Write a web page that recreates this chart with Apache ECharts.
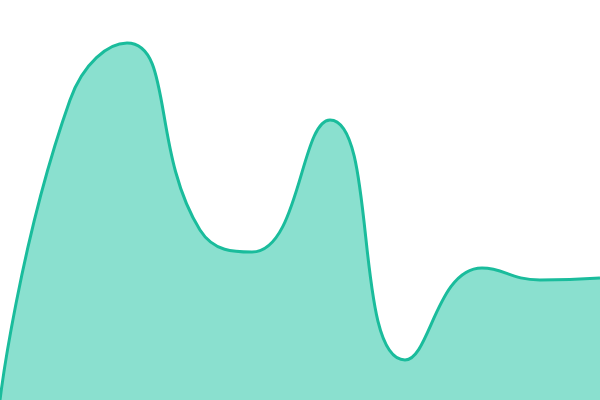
<!DOCTYPE html>
<html lang="en">

<head>
    <meta charset="UTF-8">
    <title>area</title>
    <script src="https://cdn.jsdelivr.net/npm/echarts@6/dist/echarts.min.js"></script>
    <style>
        html, body { margin: 0; padding: 0; background: #fff; }
    </style>
</head>

<body>
    <div id='main' style="width: 600px;height: 400px;"></div>

    <script>
        // x positions and values (axis 0-600 / 0-400)
        var xValues = [0, 70, 127, 200, 252, 330, 405, 482, 540, 600];
        var yValues = [0, 300, 357, 170, 148, 280, 40, 132, 120, 122];

        var points = [];
        for (var i = 0; i < xValues.length; i++) {
            points.push([xValues[i], yValues[i]]);
        }

        var myChart = echarts.init(document.getElementById('main'));
        var option = {
            animation: false,
            grid: { left: 0, right: 0, top: 0, bottom: 0 },
            xAxis: { type: 'value', min: 0, max: 600, show: false },
            yAxis: { type: 'value', min: 0, max: 400, show: false },
            series: [{
                type: 'line',
                data: points,
                smooth: true,
                symbol: 'none',
                lineStyle: { color: '#1abc9c', width: 3 },
                areaStyle: { color: '#8ae0cf', opacity: 1 }
            }]
        };
        myChart.setOption(option);
    </script>
</body>

</html>
